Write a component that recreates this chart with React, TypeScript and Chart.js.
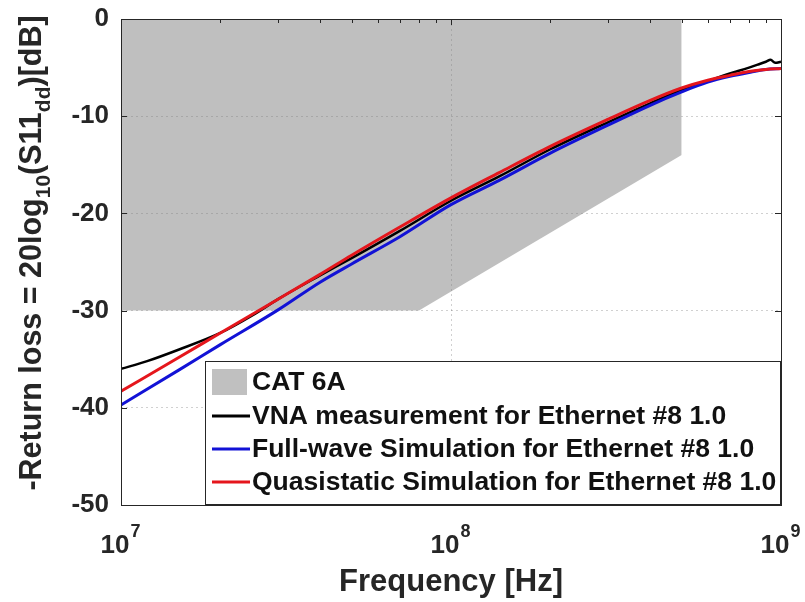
import React, { useEffect, useRef } from 'react';
import { Chart, registerables } from 'chart.js';

Chart.register(...registerables);

// ---- data ----
const cat6aFreqHz = [1e7, 8e7, 5e8];
const cat6aDb = [-30, -30, -14];

const vnaFreqHz = [1e7, 1.2e7, 1.5e7, 2e7, 2.5e7, 3e7, 4e7, 5e7, 7e7, 1e8, 1.4e8, 2e8, 3e8, 4e8, 5e8, 6e8, 7e8, 7.5e8, 8e8, 8.5e8, 9e8, 9.3e8, 9.6e8, 1e9];
const vnaDb = [-36.0, -35.2, -34.0, -32.3, -30.5, -28.8, -26.4, -24.6, -21.8, -18.7, -16.2, -13.4, -10.6, -8.7, -7.3, -6.4, -5.6, -5.3, -5.0, -4.7, -4.4, -4.2, -4.5, -4.4];

const simFreqHz = [1e7, 1.5e7, 2e7, 3e7, 4e7, 5e7, 7e7, 1e8, 1.4e8, 2e8, 3e8, 4e8, 5e8, 6e8, 7e8, 8e8, 9e8, 1e9];
const fullWaveDb = [-39.7, -36.1, -33.5, -29.9, -27.1, -25.2, -22.4, -19.1, -16.6, -13.8, -10.9, -8.9, -7.5, -6.5, -5.9, -5.5, -5.2, -5.1];
const quasiDb = [-38.3, -34.8, -32.3, -28.8, -26.3, -24.3, -21.4, -18.4, -15.8, -13.1, -10.3, -8.4, -7.1, -6.3, -5.8, -5.4, -5.2, -5.1];

const xTickValues = [1e7, 1e8, 1e9];
const xTickExponents = ['7', '8', '9'];
const yMin = -50;
const yMax = 0;
const yStep = 10;

const legendLabels = [
  'CAT 6A',
  'VNA measurement for Ethernet #8 1.0',
  'Full-wave Simulation for Ethernet #8 1.0',
  'Quasistatic Simulation for Ethernet #8 1.0',
];
const xTitle = 'Frequency [Hz]';
const yTitleParts: { t: string; sub: boolean }[] = [
  { t: '-Return loss = 20log', sub: false },
  { t: '10', sub: true },
  { t: '(S11', sub: false },
  { t: 'dd', sub: true },
  { t: ')[dB]', sub: false },
];

// ---- styles ----
const FONT = '"Liberation Sans", Arial, Helvetica, sans-serif';
const AXIS_COLOR = '#262626';
const GRAY_FILL = 'rgba(128,128,128,0.5)';
const COL_VNA = '#000000';
const COL_FW = '#1212d6';
const COL_QS = '#e5161c';

const toXY = (xs: number[], ys: number[]) => xs.map((x, i) => ({ x, y: ys[i] }));

const decorPlugin = {
  id: 'decor',
  afterDraw(chart: any) {
    const { ctx, chartArea: a, scales } = chart;
    const xs = scales.x;
    const ys = scales.y;
    ctx.save();

    // axes box
    ctx.strokeStyle = AXIS_COLOR;
    ctx.lineWidth = 1;
    ctx.strokeRect(Math.round(a.left) + 0.5, Math.round(a.top) + 0.5, Math.round(a.right - a.left), Math.round(a.bottom - a.top));

    // tick marks (inward, all sides)
    const tl = 6;
    ctx.beginPath();
    for (let v = yMin; v <= yMax; v += yStep) {
      const py = Math.round(ys.getPixelForValue(v)) + 0.5;
      ctx.moveTo(a.left, py); ctx.lineTo(a.left + tl, py);
      ctx.moveTo(a.right, py); ctx.lineTo(a.right - tl, py);
    }
    for (let d = 7; d < 9; d++) {
      for (let m = 1; m <= 9; m++) {
        const v = m * Math.pow(10, d);
        const px = Math.round(xs.getPixelForValue(v)) + 0.5;
        const len = m === 1 ? tl : 4;
        ctx.moveTo(px, a.top); ctx.lineTo(px, a.top + len);
        ctx.moveTo(px, a.bottom); ctx.lineTo(px, a.bottom - len);
      }
    }
    ctx.stroke();

    // x tick labels with superscript exponents
    ctx.fillStyle = AXIS_COLOR;
    ctx.textBaseline = 'alphabetic';
    ctx.textAlign = 'left';
    xTickValues.forEach((v, i) => {
      const px = xs.getPixelForValue(v);
      ctx.font = `bold 26px ${FONT}`;
      const w1 = ctx.measureText('10').width;
      ctx.font = `bold 18px ${FONT}`;
      const w2 = ctx.measureText(xTickExponents[i]).width;
      const x0 = px - (w1 + w2) / 2 - 1;
      ctx.font = `bold 26px ${FONT}`;
      ctx.fillText('10', x0, a.bottom + 48);
      ctx.font = `bold 18px ${FONT}`;
      ctx.fillText(xTickExponents[i], x0 + w1 + 1, a.bottom + 32);
    });

    // x title
    ctx.font = `bold 31px ${FONT}`;
    ctx.textAlign = 'center';
    ctx.textBaseline = 'middle';
    ctx.fillText(xTitle, (a.left + a.right) / 2, a.bottom + 77);

    // y title with subscripts (rotated)
    ctx.save();
    ctx.translate(33, 253);
    ctx.rotate(-Math.PI / 2);
    ctx.textAlign = 'left';
    ctx.textBaseline = 'middle';
    const mainF = `bold 30.5px ${FONT}`;
    const subF = `bold 21px ${FONT}`;
    let total = 0;
    const widths = yTitleParts.map((p) => {
      ctx.font = p.sub ? subF : mainF;
      const w = ctx.measureText(p.t).width;
      total += w;
      return w;
    });
    let cx = -total / 2;
    yTitleParts.forEach((p, i) => {
      ctx.font = p.sub ? subF : mainF;
      ctx.fillText(p.t, cx, p.sub ? 11 : 0);
      cx += widths[i];
    });
    ctx.restore();

    // legend box (bottom-right, MATLAB style)
    const lx0 = a.left + 84;
    const ly0 = a.top + 342;
    const lx1 = a.right;
    const ly1 = a.bottom;
    ctx.fillStyle = '#ffffff';
    ctx.fillRect(lx0, ly0, lx1 - lx0, ly1 - ly0);
    ctx.strokeStyle = AXIS_COLOR;
    ctx.lineWidth = 1;
    ctx.strokeRect(Math.round(lx0) + 0.5, Math.round(ly0) + 0.5, Math.round(lx1 - lx0) - 1, Math.round(ly1 - ly0) - 1);

    const rowY = [ly0 + 21, ly0 + 55, ly0 + 88, ly0 + 121];
    const swatchX0 = lx0 + 7;
    const swatchX1 = lx0 + 45;
    const textX = lx0 + 47;
    const lineCols = [COL_VNA, COL_FW, COL_QS];
    // patch
    ctx.fillStyle = '#c0c0c0';
    ctx.fillRect(swatchX0, rowY[0] - 13, 35, 26);
    // lines
    lineCols.forEach((c, i) => {
      ctx.strokeStyle = c;
      ctx.lineWidth = 3;
      ctx.beginPath();
      ctx.moveTo(swatchX0, rowY[i + 1]);
      ctx.lineTo(swatchX1, rowY[i + 1]);
      ctx.stroke();
    });
    ctx.fillStyle = '#111111';
    ctx.font = `bold 26.5px ${FONT}`;
    ctx.textAlign = 'left';
    ctx.textBaseline = 'middle';
    legendLabels.forEach((t, i) => {
      ctx.fillText(t, textX, rowY[i] + 1);
    });

    ctx.restore();
  },
};

export default function App() {
  const canvasRef = useRef<HTMLCanvasElement | null>(null);

  useEffect(() => {
    const canvas = canvasRef.current;
    if (!canvas) return;
    const chart = new Chart(canvas, {
      type: 'line',
      data: {
        datasets: [
          {
            label: legendLabels[0],
            data: toXY(cat6aFreqHz, cat6aDb),
            fill: 'end',
            backgroundColor: GRAY_FILL,
            borderWidth: 0,
            pointRadius: 0,
            tension: 0,
            order: 3,
          },
          {
            label: legendLabels[1],
            data: toXY(vnaFreqHz, vnaDb),
            borderColor: COL_VNA,
            borderWidth: 2.5,
            pointRadius: 0,
            fill: false,
            cubicInterpolationMode: 'monotone',
            order: 2,
          },
          {
            label: legendLabels[2],
            data: toXY(simFreqHz, fullWaveDb),
            borderColor: COL_FW,
            borderWidth: 3,
            pointRadius: 0,
            fill: false,
            cubicInterpolationMode: 'monotone',
            order: 1,
          },
          {
            label: legendLabels[3],
            data: toXY(simFreqHz, quasiDb),
            borderColor: COL_QS,
            borderWidth: 3,
            pointRadius: 0,
            fill: false,
            cubicInterpolationMode: 'monotone',
            order: 0,
          },
        ],
      },
      options: {
        responsive: false,
        animation: false,
        events: [],
        layout: { padding: { top: 19, right: 24, left: 0, bottom: 0 } },
        plugins: {
          legend: { display: false },
          tooltip: { enabled: false },
          title: { display: false },
        },
        scales: {
          x: {
            type: 'logarithmic',
            min: 1e7,
            max: 1e9,
            afterBuildTicks: (s: any) => {
              s.ticks = xTickValues.map((v) => ({ value: v }));
            },
            afterFit: (s: any) => {
              s.height = 97;
              s.paddingLeft = 0;
              s.paddingRight = 0;
            },
            ticks: { display: false },
            grid: { color: 'rgba(40,40,40,0.22)', drawTicks: false, lineWidth: 1 },
            border: { display: false, dash: [2, 3] },
          },
          y: {
            type: 'linear',
            min: yMin,
            max: yMax,
            afterFit: (s: any) => {
              s.width = 121;
              s.paddingTop = 0;
              s.paddingBottom = 0;
            },
            ticks: {
              stepSize: yStep,
              color: AXIS_COLOR,
              font: { family: FONT, size: 26, weight: 'bold' },
              padding: 12,
            },
            grid: { color: 'rgba(40,40,40,0.22)', drawTicks: false, lineWidth: 1 },
            border: { display: false, dash: [2, 3] },
          },
        },
      },
      plugins: [decorPlugin],
    } as any);
    return () => chart.destroy();
  }, []);

  return (
    <div style={{ position: 'fixed', left: 0, top: 0, width: 805, height: 602, background: '#ffffff' }}>
      <canvas ref={canvasRef} width={805} height={602} />
    </div>
  );
}
